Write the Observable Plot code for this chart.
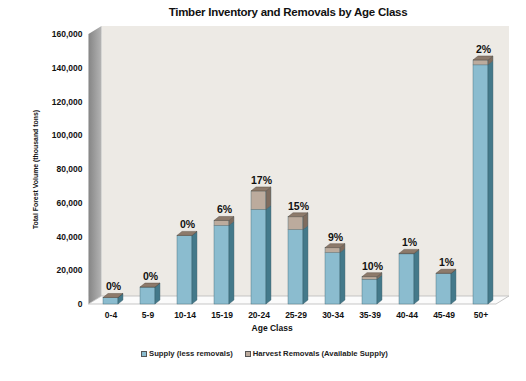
<!DOCTYPE html>
<html>
<head>
<meta charset="utf-8">
<script src="https://cdn.jsdelivr.net/npm/d3@7"></script>
<script src="https://cdn.jsdelivr.net/npm/@observablehq/plot@0.6"></script>
<style>
  html, body { margin: 0; padding: 0; background: #fff; }
  body { width: 526px; height: 381px; overflow: hidden; position: relative; font-family: Arial, "Liberation Sans", sans-serif; }
  #title { height: 24px; line-height: 24px; font-size: 11.5px; font-weight: bold; text-align: center; padding-left: 50px; width: 476px; letter-spacing: -0.25px; color: #111; }
  #chart { height: 316px; }
  #chart svg { display: block; }
  #legend { position: absolute; left: 141px; top: 348px; display: flex; font-size: 7.7px; font-weight: bold; color: #222; line-height: 12px; }
  #legend .item { display: flex; align-items: center; margin-right: 12px; }
  #legend .sw { width: 4px; height: 4px; border: 1px solid #555; margin-right: 2px; }
</style>
</head>
<body>
<div id="title">Timber Inventory and Removals by Age Class</div>
<div id="chart"></div>
<div id="legend"></div>
<script>
const ageClasses = ["0-4", "5-9", "10-14", "15-19", "20-24", "25-29", "30-34", "35-39", "40-44", "45-49", "50+"];
const supply   = [3800, 10000, 40500, 46500, 56000, 44000, 30400, 14600, 29700, 18000, 141700];
const removals = [60, 60, 150, 3000, 11000, 7700, 3000, 1600, 300, 200, 2900];
const pctLabels = ["0%", "0%", "0%", "6%", "17%", "15%", "9%", "10%", "1%", "1%", "2%"];
const seriesNames = ["Supply (less removals)", "Harvest Removals (Available Supply)"];
const yTicks = [0, 20000, 40000, 60000, 80000, 100000, 120000, 140000, 160000];

const frontColors = ["#8bbccf", "#bcab9d"];
const sideColors = ["#44798a", "#7f6c5e"];
const topColors = ["#74a8ba", "#8d7a6b"];

const rows = [];
ageClasses.forEach((a, i) => {
  rows.push({age: a, series: seriesNames[0], value: supply[i], lo: 0, hi: supply[i], s: 0});
  rows.push({age: a, series: seriesNames[1], value: removals[i], lo: supply[i], hi: supply[i] + removals[i], s: 1});
});
const totals = ageClasses.map((a, i) => ({age: a, total: supply[i] + removals[i], label: pctLabels[i]}));

const PAD_IN = 0.596;
const BAR_D = [5, -4];   // bar depth offset
const WALL_D = [13, -8]; // wall depth offset

function geom(scales) {
  const x = scales.x, y = scales.y;
  const x0 = x(ageClasses[0]), x1 = x(ageClasses[1]);
  const step = x1 - x0;
  const bw = step * (1 - PAD_IN);
  return {x, y, step, bw};
}

const svgNS = "http://www.w3.org/2000/svg";
function poly(g, pts, fill, stroke, sw) {
  const p = document.createElementNS(svgNS, "polygon");
  p.setAttribute("points", pts.map(d => d.join(",")).join(" "));
  p.setAttribute("fill", fill);
  if (stroke) { p.setAttribute("stroke", stroke); p.setAttribute("stroke-width", sw || 0.6); p.setAttribute("stroke-linejoin", "round"); }
  g.appendChild(p);
}

// Walls and floor
function walls(index, scales) {
  const {x, y, step, bw} = geom(scales);
  const g = document.createElementNS(svgNS, "g");
  const defs = document.createElementNS(svgNS, "defs");
  defs.innerHTML = '<linearGradient id="lw" x1="0" x2="1" y1="0" y2="0"><stop offset="0" stop-color="#858585"/><stop offset="1" stop-color="#b4b4b4"/></linearGradient>';
  g.appendChild(defs);
  const L = x(ageClasses[0]) + bw / 2 - step / 2 - 3.5;
  const R = x(ageClasses[ageClasses.length - 1]) + bw / 2 + step / 2 - 3;
  const y0 = y(0), yT = y(yTicks[yTicks.length - 1]);
  const [dx, dy] = WALL_D;
  // back wall
  poly(g, [[L + dx, yT + dy], [R + dx, yT + dy], [R + dx, y0 + dy], [L + dx, y0 + dy]], "#edeae5");
  // left wall
  poly(g, [[L, yT], [L + dx, yT + dy], [L + dx, y0 + dy], [L, y0]], "url(#lw)");
  // floor
  poly(g, [[L, y0], [L + dx, y0 + dy], [R + dx, y0 + dy], [R, y0]], "#fbfbfb", "#b9b9b9", 0.8);
  return g;
}

// Side and top faces of bars
function barSides(index, scales) {
  const {x, y, bw} = geom(scales);
  const g = document.createElementNS(svgNS, "g");
  const [dx, dy] = BAR_D;
  rows.forEach(r => {
    if (r.value <= 0) return;
    const xl = x(r.age), xr = xl + bw;
    const yb = y(r.lo), yt = y(r.hi);
    poly(g, [[xr, yt], [xr + dx, yt + dy], [xr + dx, yb + dy], [xr, yb]], sideColors[r.s], "#2f5460", 0.4);
  });
  totals.forEach((t, i) => {
    const xl = x(t.age), xr = xl + bw, yt = y(t.total);
    const s = removals[i] > 0 ? 1 : 0;
    poly(g, [[xl, yt], [xl + dx, yt + dy], [xr + dx, yt + dy], [xr, yt]], topColors[s], "#4d4036", 0.4);
  });
  return g;
}

const plot = Plot.plot({
  width: 526,
  height: 316,
  marginTop: 10,
  marginBottom: 36,
  marginLeft: 91.44,
  marginRight: 26.24,
  style: {fontFamily: "Arial, 'Liberation Sans', sans-serif", fontSize: "8.5px", fontWeight: "bold", color: "#111", background: "transparent"},
  x: {domain: ageClasses, paddingInner: PAD_IN, paddingOuter: PAD_IN / 2, label: null, tickSize: 0, tickPadding: 7},
  y: {domain: [0, 160000], ticks: yTicks, tickFormat: d3.format(","), label: null, tickSize: 0, tickPadding: 9.5},
  color: {domain: seriesNames, range: frontColors},
  marks: [
    walls,
    Plot.barY(rows, {x: "age", y1: "lo", y2: "hi", fill: "series", stroke: "#3f6470", strokeWidth: 0.4}),
    barSides,
    Plot.text(totals, {x: "age", y: "total", text: "label", dy: -11, dx: 2.5, fontSize: 10.5, fontWeight: "bold", fill: "#111"}),
    Plot.text(["Total Forest Volume (thousand tons)"], {frameAnchor: "left", textAnchor: "middle", text: d => d, rotate: -90, dx: -56.5, fontSize: 6.9, fontWeight: "bold"}),
    Plot.text(["Age Class"], {frameAnchor: "bottom", textAnchor: "middle", text: d => d, dy: 26, dx: -24, fontSize: 8.5, fontWeight: "bold"})
  ]
});
document.getElementById("chart").appendChild(plot);

const legend = document.getElementById("legend");
seriesNames.forEach((name, i) => {
  const item = document.createElement("div");
  item.className = "item";
  const sw = document.createElement("span");
  sw.className = "sw";
  sw.style.background = frontColors[i];
  const tx = document.createElement("span");
  tx.textContent = name;
  item.appendChild(sw);
  item.appendChild(tx);
  legend.appendChild(item);
});
</script>
</body>
</html>
